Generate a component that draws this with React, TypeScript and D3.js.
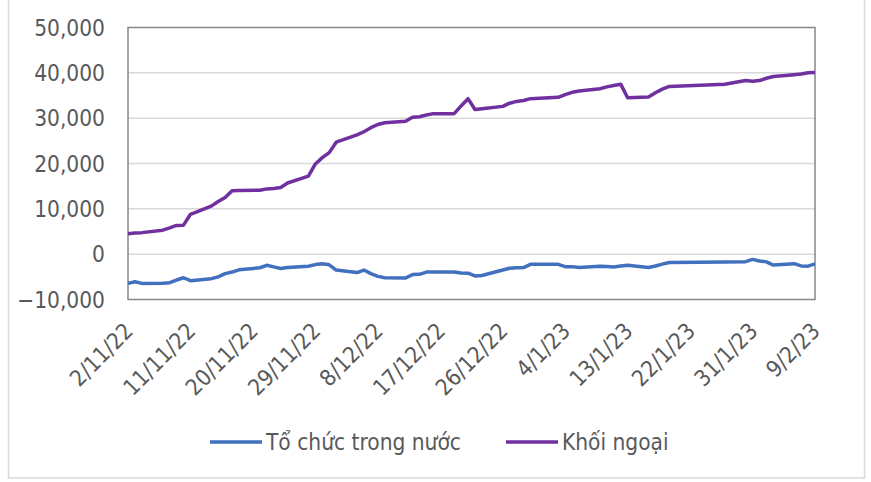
import { useRef, useEffect } from "react";
import * as d3 from "d3";

// ── Data ──────────────────────────────────────────────────────────────────────

const DATES = [
  "2022-11-02", "2022-11-03", "2022-11-04", "2022-11-07", "2022-11-08", "2022-11-09", "2022-11-10", "2022-11-11",
  "2022-11-14", "2022-11-15", "2022-11-16", "2022-11-17", "2022-11-18", "2022-11-21", "2022-11-22", "2022-11-23",
  "2022-11-24", "2022-11-25", "2022-11-28", "2022-11-29", "2022-11-30", "2022-12-01", "2022-12-02", "2022-12-05",
  "2022-12-06", "2022-12-07", "2022-12-08", "2022-12-09", "2022-12-12", "2022-12-13", "2022-12-14", "2022-12-15",
  "2022-12-16", "2022-12-19", "2022-12-20", "2022-12-21", "2022-12-22", "2022-12-23", "2022-12-26", "2022-12-27",
  "2022-12-28", "2022-12-29", "2022-12-30", "2023-01-03", "2023-01-04", "2023-01-05", "2023-01-06", "2023-01-09",
  "2023-01-10", "2023-01-11", "2023-01-12", "2023-01-13", "2023-01-16", "2023-01-17", "2023-01-18", "2023-01-19",
  "2023-01-27", "2023-01-30", "2023-01-31", "2023-02-01", "2023-02-02", "2023-02-03", "2023-02-06", "2023-02-07",
  "2023-02-08", "2023-02-09",
];

// Tổ chức trong nước
const DOMESTIC = [
  -6450, -6100, -6450, -6400, -6300, -5700, -5200, -5850,
  -5400, -5000, -4300, -3950, -3450, -3000, -2450, -2800,
  -3150, -2950, -2650, -2300, -2100, -2350, -3500, -4050,
  -3500, -4300, -4900, -5200, -5250, -4500, -4450, -3950,
  -3950, -3950, -4150, -4200, -4800, -4700, -3500, -3100,
  -3000, -2950, -2250, -2250, -2750, -2750, -2950, -2650,
  -2700, -2850, -2600, -2450, -2950, -2600, -2200, -1850,
  -1750, -1650, -1150, -1500, -1700, -2400, -2100, -2600,
  -2650, -2150,
];

// Khối ngoại
const FOREIGN = [
  4500, 4650, 4750, 5300, 5800, 6350, 6400, 8800,
  10600, 11600, 12500, 14000, 14050, 14100, 14400, 14500,
  14700, 15700, 17200, 19900, 21300, 22400, 24700, 26300,
  27000, 27900, 28600, 29000, 29300, 30200, 30300, 30700,
  31000, 31000, 32700, 34300, 31900, 32100, 32600, 33300,
  33700, 33900, 34300, 34600, 35200, 35700, 36000, 36500,
  36900, 37200, 37500, 34500, 34650, 35600, 36400, 37000,
  37500, 38300, 38150, 38300, 38800, 39200, 39600, 39750,
  40000, 40050,
];

const Y_TICKS = [-10000, 0, 10000, 20000, 30000, 40000, 50000];
const X_TICKS = [
  "2022-11-02", "2022-11-11", "2022-11-20", "2022-11-29", "2022-12-08", "2022-12-17",
  "2022-12-26", "2023-01-04", "2023-01-13", "2023-01-22", "2023-01-31", "2023-02-09",
];

const SERIES = [
  { name: "Tổ chức trong nước", values: DOMESTIC, color: "#4170BE" },
  { name: "Khối ngoại", values: FOREIGN, color: "#7030A0" },
];

// ── Layout ────────────────────────────────────────────────────────────────────

const W = 871;
const H = 482;
const PLOT = { left: 128, right: 815, top: 27.5, bottom: 299.5 };
const FONT = "'DejaVu Sans Condensed', 'DejaVu Sans', sans-serif";
const FONT_SIZE = 22.5;
const TEXT_COLOR = "#595959";

const parse = d3.utcParse("%Y-%m-%d");
const fmtTick = (d: Date) => `${d.getUTCDate()}/${d.getUTCMonth() + 1}/${String(d.getUTCFullYear()).slice(2)}`;

function render(svg: SVGSVGElement) {
  const root = d3.select(svg);
  root.selectAll("*").remove();

  const x = d3
    .scaleUtc()
    .domain([parse(X_TICKS[0])!, parse(X_TICKS[X_TICKS.length - 1])!])
    .range([PLOT.left, PLOT.right]);
  const y = d3.scaleLinear().domain([-10000, 50000]).range([PLOT.bottom, PLOT.top]);

  // outer frame
  root
    .append("rect")
    .attr("x", 8.5)
    .attr("y", -1)
    .attr("width", 856)
    .attr("height", 479)
    .attr("fill", "#fff")
    .attr("stroke", "#D9D9D9")
    .attr("stroke-width", 1.5);

  // grid
  root
    .selectAll(".grid")
    .data(Y_TICKS.filter((t) => t > -10000 && t < 50000))
    .join("line")
    .attr("x1", PLOT.left)
    .attr("x2", PLOT.right)
    .attr("y1", (d) => y(d))
    .attr("y2", (d) => y(d))
    .attr("stroke", "#D9D9D9")
    .attr("stroke-width", 1.5);

  // plot border
  root
    .append("rect")
    .attr("x", PLOT.left)
    .attr("y", PLOT.top)
    .attr("width", PLOT.right - PLOT.left)
    .attr("height", PLOT.bottom - PLOT.top)
    .attr("fill", "none")
    .attr("stroke", "#878787")
    .attr("stroke-width", 1.5);

  // y labels
  root
    .selectAll(".ylab")
    .data(Y_TICKS)
    .join("text")
    .attr("x", 105)
    .attr("y", (d) => y(d))
    .attr("dy", "0.36em")
    .attr("text-anchor", "end")
    .attr("font-family", FONT)
    .attr("font-size", FONT_SIZE)
    .attr("fill", TEXT_COLOR)
    .text((d) => d3.format(",")(d));

  // x labels
  root
    .selectAll(".xlab")
    .data(X_TICKS.map((s) => parse(s)!))
    .join("text")
    .attr("transform", (d) => `translate(${x(d) - 5},${321}) rotate(-45)`)
    .attr("dy", "0.72em")
    .attr("text-anchor", "end")
    .attr("font-family", FONT)
    .attr("font-size", FONT_SIZE)
    .attr("fill", TEXT_COLOR)
    .text((d) => fmtTick(d));

  // lines
  const dates = DATES.map((s) => parse(s)!);
  SERIES.forEach((s) => {
    const line = d3
      .line<number>()
      .x((_, i) => x(dates[i]))
      .y((v) => y(v));
    root
      .append("path")
      .attr("d", line(s.values))
      .attr("fill", "none")
      .attr("stroke", s.color)
      .attr("stroke-width", 3.5)
      .attr("stroke-linejoin", "round");
  });

  // legend
  const legendX = [210, 506];
  SERIES.forEach((s, i) => {
    const lg = root.append("g").attr("transform", `translate(${legendX[i]},442)`);
    lg.append("line")
      .attr("x1", 0)
      .attr("x2", 52)
      .attr("stroke", s.color)
      .attr("stroke-width", 3.5);
    lg.append("text")
      .attr("x", 56)
      .attr("y", 8)
      .attr("font-family", FONT)
      .attr("font-size", FONT_SIZE)
      .attr("fill", TEXT_COLOR)
      .text(s.name);
  });
}

export default function App() {
  const svgRef = useRef<SVGSVGElement>(null);
  useEffect(() => {
    if (svgRef.current) render(svgRef.current);
  }, []);
  return (
    <div style={{ position: "absolute", left: 0, top: 0 }}>
      <svg ref={svgRef} width={W} height={H} style={{ display: "block" }} />
    </div>
  );
}
